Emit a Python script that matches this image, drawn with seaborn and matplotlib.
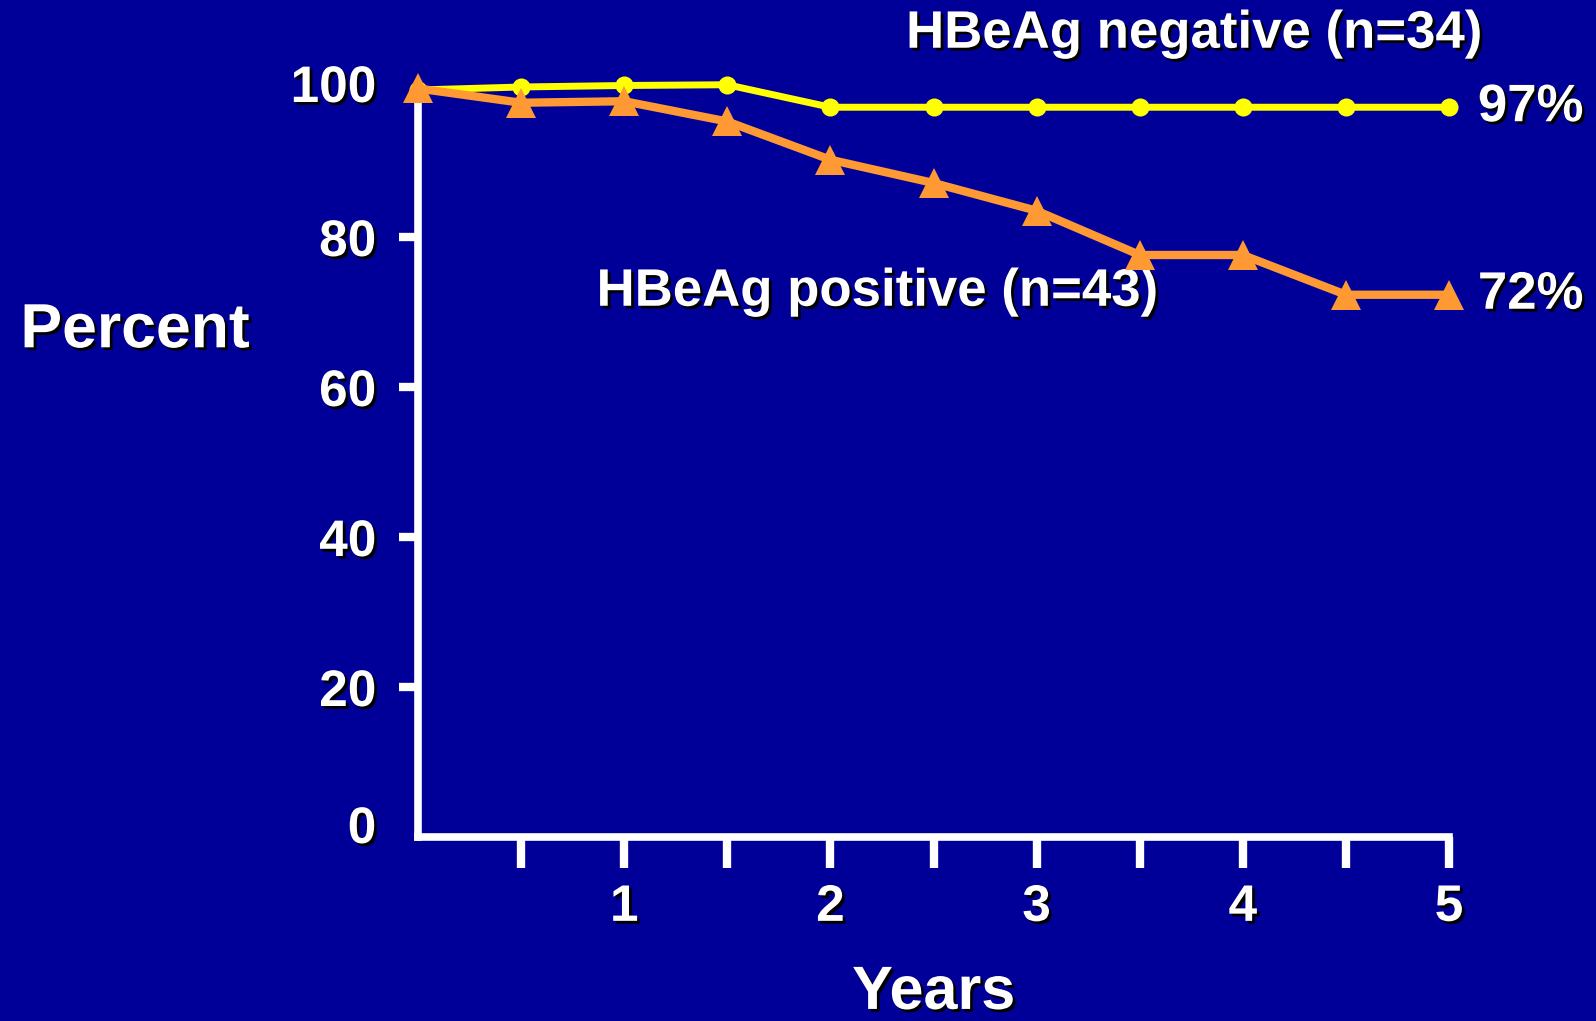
import matplotlib
matplotlib.use('Agg')
import matplotlib.pyplot as plt
import matplotlib.patheffects as pe
import matplotlib.transforms as mtransforms
import seaborn as sns
import pandas as pd

years = [0, 0.5, 1, 1.5, 2, 2.5, 3, 3.5, 4, 4.5, 5]
hbeag_negative = [99.6, 100.0, 100.2, 100.3, 97.3, 97.3, 97.3, 97.3, 97.3, 97.3, 97.3]
hbeag_positive = [99.8, 97.9, 98.1, 95.4, 90.3, 87.2, 83.5, 77.6, 77.6, 72.3, 72.3]
y_ticks = [0, 20, 40, 60, 80, 100]
x_major = [1, 2, 3, 4, 5]
x_minor = [0.5, 1.5, 2.5, 3.5, 4.5]
neg_label = "HBeAg negative (n=34)"
pos_label = "HBeAg positive (n=43)"
neg_end = "97%"
pos_end = "72%"

BG = '#000099'
YELLOW = '#FFFF00'
ORANGE = '#FF9933'

sns.set_style('white')
plt.rcParams['font.family'] = ['Liberation Sans', 'DejaVu Sans']
plt.rcParams['font.weight'] = 'bold'

shadow = [pe.withSimplePatchShadow(offset=(2, -2), shadow_rgbFace='black', alpha=1.0)]

fig = plt.figure(figsize=(15.96, 10.21), dpi=100, facecolor=BG)
ax = fig.add_axes([0.2619, 0.1802, 0.646, 0.7346])
ax.set_facecolor(BG)

df = pd.DataFrame({'Years': years, 'neg': hbeag_negative, 'pos': hbeag_positive})

sns.lineplot(data=df, x='Years', y='neg', ax=ax, color=YELLOW, lw=5,
             marker='o', markersize=13, markeredgewidth=0, clip_on=False, zorder=3)
sns.lineplot(data=df, x='Years', y='pos', ax=ax, color=ORANGE, lw=6,
             marker='^', markersize=22, markeredgewidth=0, clip_on=False, zorder=4)

ax.set_xlim(0, 5)
ax.set_ylim(0, 100)

for s in ['top', 'right']:
    ax.spines[s].set_visible(False)
for s in ['left', 'bottom']:
    ax.spines[s].set_color('white')
    ax.spines[s].set_linewidth(5.5)
    ax.spines[s].set_zorder(2)

ax.set_yticks(y_ticks)
ax.set_yticklabels([str(v) for v in y_ticks])
ax.set_xticks(x_major)
ax.set_xticklabels([str(v) for v in x_major])
ax.set_xticks(x_minor, minor=True)

ax.tick_params(axis='y', which='major', direction='out', length=14, width=6,
               color='white', labelcolor='white', labelsize=37, pad=16, left=True)
ax.tick_params(axis='x', which='both', direction='out', length=22, width=6,
               color='white', labelcolor='white', labelsize=37, pad=11, bottom=True)
yt = ax.yaxis.get_major_ticks()
yt[0].tick1line.set_visible(False)
yt[-1].tick1line.set_visible(False)
for lbl in ax.get_yticklabels() + ax.get_xticklabels():
    lbl.set_fontweight('bold')
    lbl.set_path_effects(shadow)
# the "0" label sits slightly above the axis line in the original
lbl0 = yt[0].label1
lbl0.set_transform(lbl0.get_transform() + mtransforms.ScaledTranslation(0, 0.13, fig.dpi_scale_trans))
lbl100 = yt[-1].label1
lbl100.set_transform(lbl100.get_transform() + mtransforms.ScaledTranslation(0, 0.04, fig.dpi_scale_trans))

ax.set_xlabel('')
ax.set_ylabel('')

fig.text(0.0128, 0.676, 'Percent', color='white', fontsize=45, fontweight='bold',
         ha='left', va='center', path_effects=shadow)
fig.text(0.585, 0.027, 'Years', color='white', fontsize=44, fontweight='bold',
         ha='center', va='center', path_effects=shadow)

ax.text(2.367, 107.1, neg_label, color='white', fontsize=38, fontweight='bold',
        ha='left', va='center', path_effects=shadow, clip_on=False)
ax.text(0.866, 72.7, pos_label, color='white', fontsize=38, fontweight='bold',
        ha='left', va='center', path_effects=shadow, clip_on=False)
ax.text(5.14, hbeag_negative[-1], neg_end, color='white', fontsize=38, fontweight='bold',
        ha='left', va='center', path_effects=shadow, clip_on=False)
ax.text(5.14, hbeag_positive[-1], pos_end, color='white', fontsize=38, fontweight='bold',
        ha='left', va='center', path_effects=shadow, clip_on=False)

fig.savefig('out.png', dpi=100, facecolor=BG)
